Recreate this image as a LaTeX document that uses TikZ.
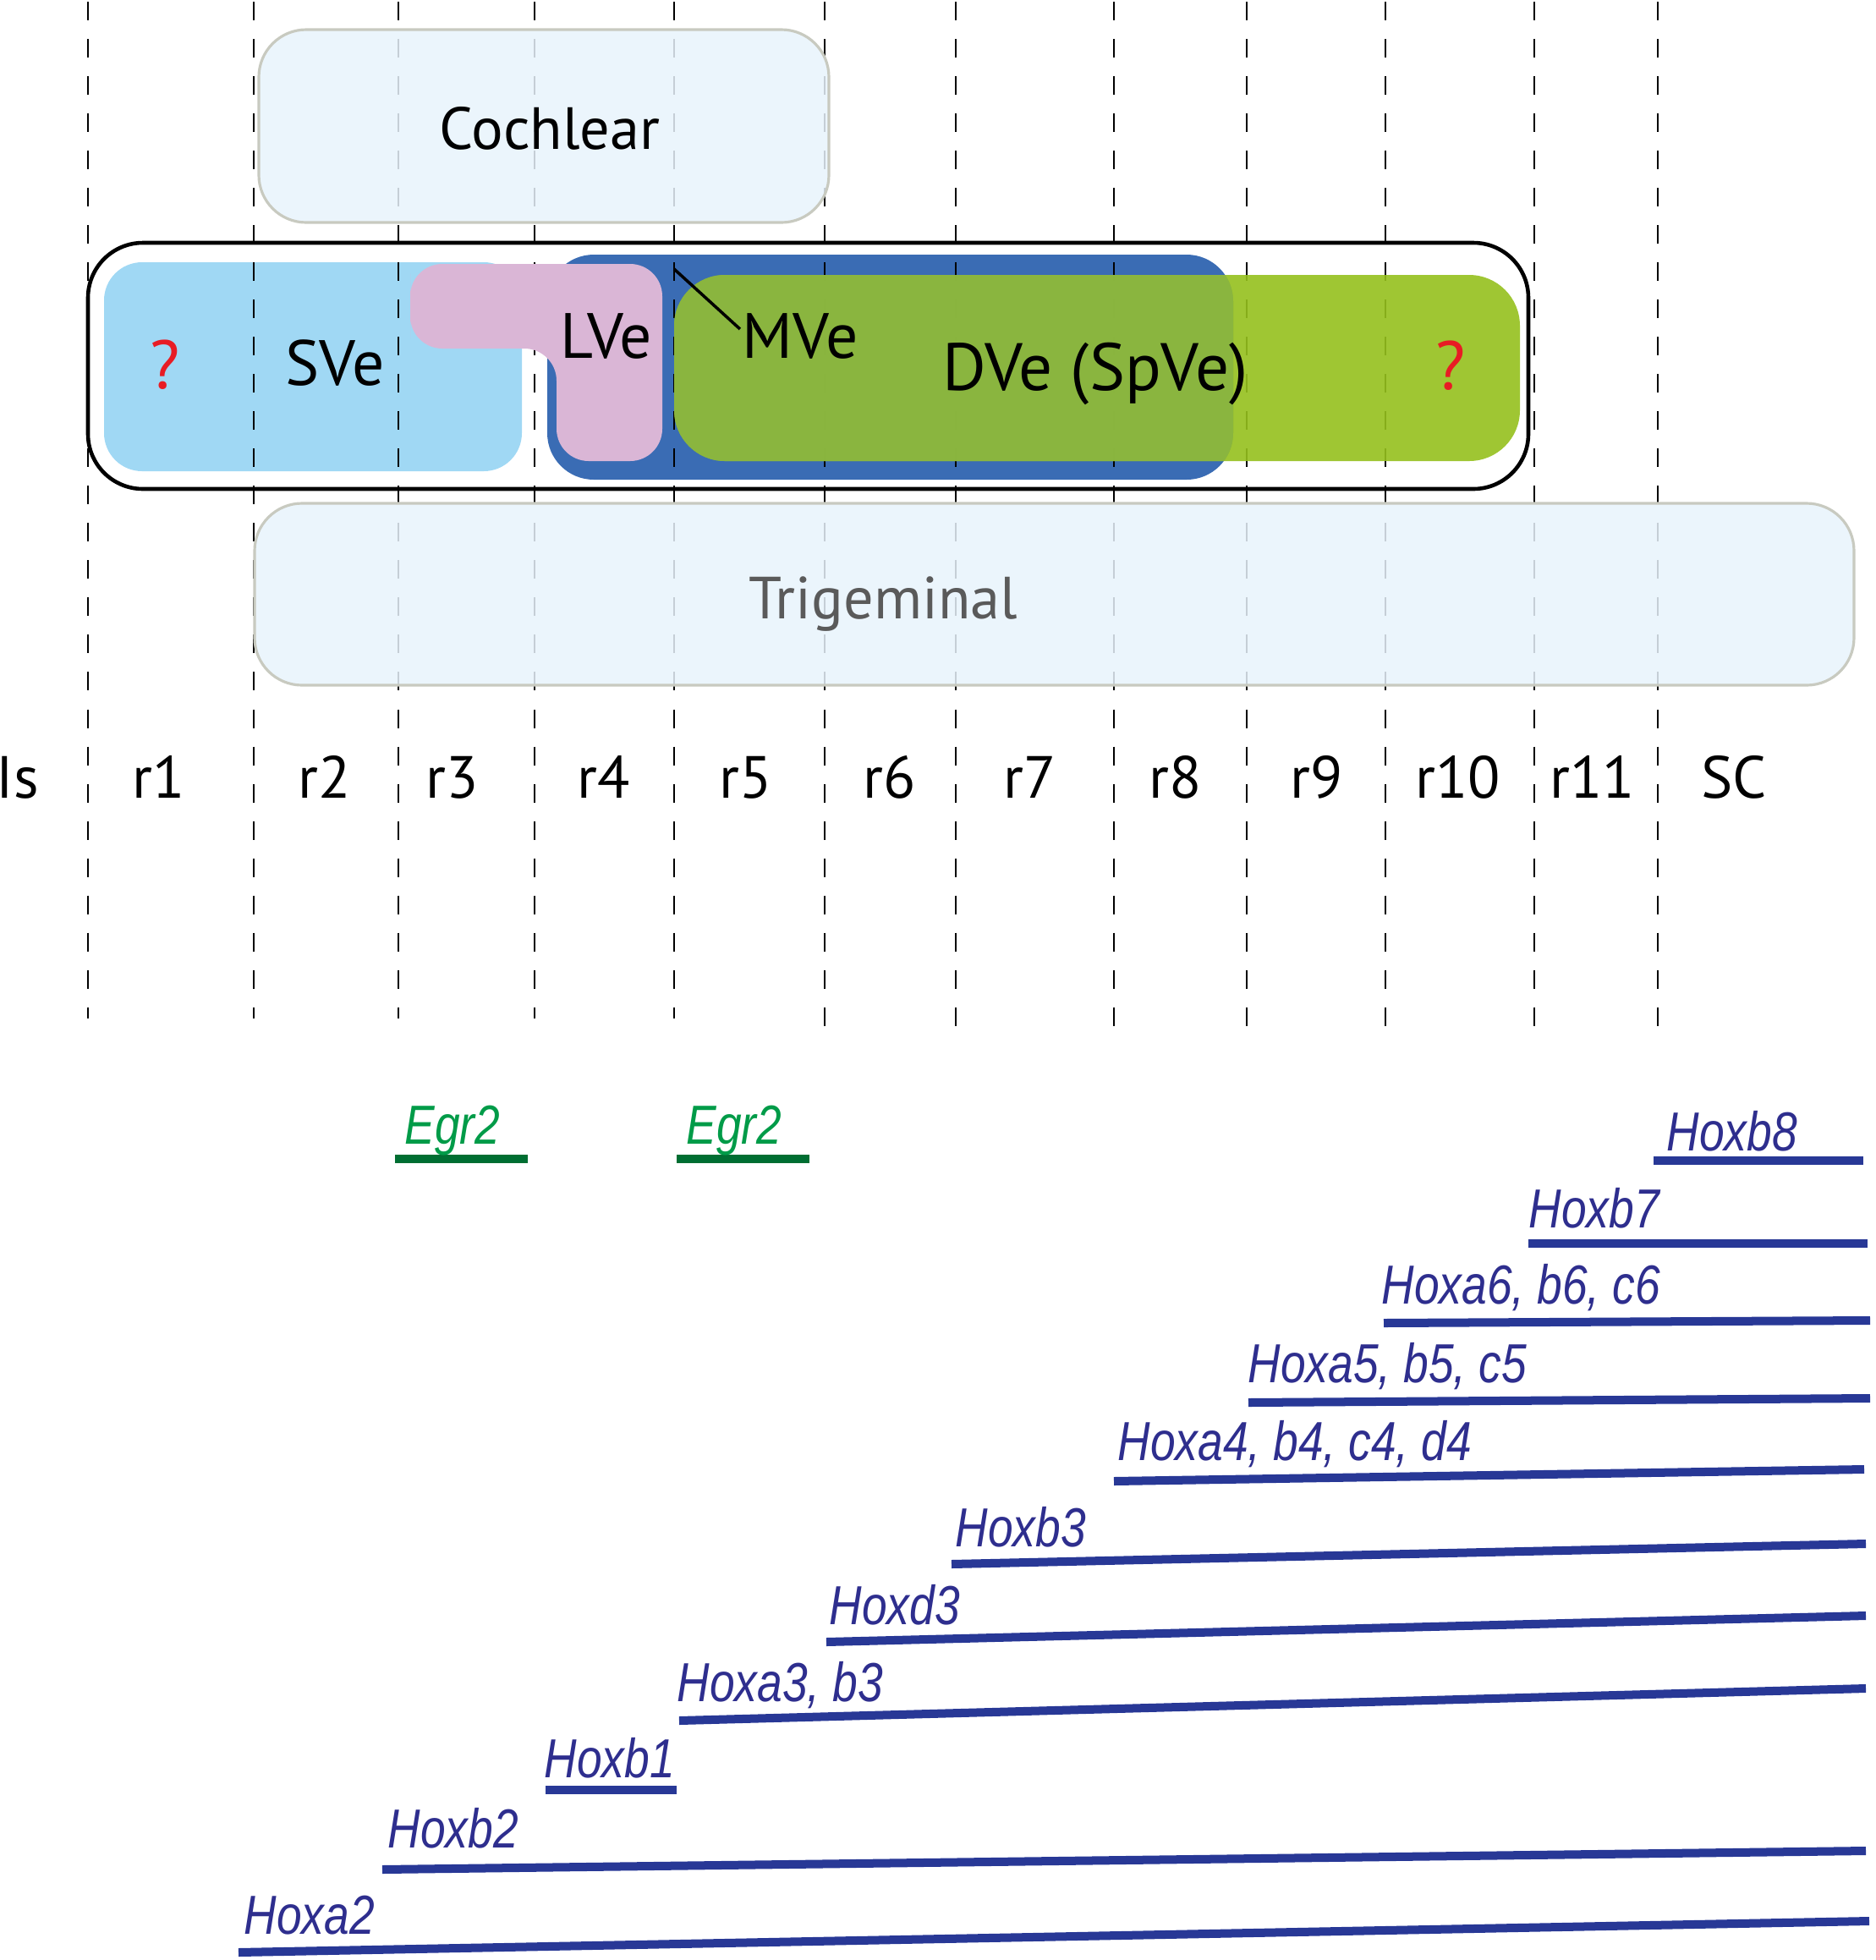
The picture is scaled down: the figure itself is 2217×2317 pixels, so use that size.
\documentclass[tikz,border=0pt]{standalone}
\usepackage{fontspec}
\setmainfont{PT Sans}
\newfontfamily\genefont[FakeStretch=0.82]{Liberation Sans}

\definecolor{cochfill}{RGB}{232,243,252}
\definecolor{boxedge}{RGB}{200,202,192}
\definecolor{svefill}{RGB}{160,216,244}
\definecolor{dvefill}{RGB}{58,108,180}
\definecolor{spvefill}{RGB}{149,192,29}
\definecolor{olivefill}{RGB}{138,181,66}
\definecolor{lvefill}{RGB}{218,182,214}
\definecolor{qred}{RGB}{232,28,36}
\definecolor{trigray}{RGB}{90,90,90}
\definecolor{egrtext}{RGB}{0,155,72}
\definecolor{egrbar}{RGB}{0,110,50}
\definecolor{hoxtext}{RGB}{46,46,142}
\definecolor{hoxbar}{RGB}{40,56,150}

\tikzset{
  seglabel/.style={anchor=base, inner sep=0pt, font=\fontsize{20}{24}\selectfont},
  vestlabel/.style={anchor=base, inner sep=0pt, font=\fontsize{21.5}{25}\selectfont},
  qmark/.style={anchor=base, inner sep=0pt, text=qred, font=\fontsize{23}{27}\selectfont},
  segline/.style={line width=0.7pt, dash pattern=on 0.22cm off 0.22cm},
  nucbox/.style={fill=cochfill, fill opacity=0.85, draw=boxedge, line width=0.9pt, rounded corners=0.56cm},
  genelabel/.style={anchor=base west, inner sep=0pt, font=\genefont\itshape\fontsize{18.5}{22}\selectfont},
  genebar/.style={line width=0.1cm}
}

\begin{document}
\begin{tikzpicture}[x=0.01cm, y=-0.01cm]
\useasboundingbox (0,0) rectangle (2217,2317);

% Nuclei (filled areas under the segment lines)
\fill[svefill, rounded corners=0.45cm] (123,310) rectangle (617,557);
\fill[dvefill, rounded corners=0.55cm] (647,301) rectangle (1458,567);

% Segment boundaries
\foreach \xx/\yend in {104/1204, 300/1204, 471/1204, 632/1204, 797/1204,
                      975/1217, 1130/1217, 1317/1217, 1474/1217, 1638/1217, 1814/1217, 1960/1217} {
    \draw[segline] (\xx,2) -- (\xx,\yend);
}

% DVe (SpVe), darker where it lies over the blue
\fill[spvefill, fill opacity=0.9, rounded corners=0.6cm] (797,325) rectangle (1797,545);
\begin{scope}
  \clip[rounded corners=0.55cm] (647,301) rectangle (1458,567);
  \fill[olivefill, fill opacity=0.9, rounded corners=0.6cm] (797,325) rectangle (1797,545);
\end{scope}

% LVe
\fill[lvefill] (485,362) [rounded corners=0.38cm] -- (485,312) -- (783,312) -- (783,545)
    -- (658,545) -- (658,412) -- (485,412) -- cycle;

% Vestibular outline
\draw[line width=1.3pt, rounded corners=0.65cm] (104,287) rectangle (1807,578);

% Cochlear and trigeminal
\draw[nucbox] (306,35) rectangle (980,263);
\draw[nucbox] (301,595) rectangle (2192,810);

% Nucleus labels
\node[seglabel] (cochlear) at (650,176) {Cochlear};
\node[seglabel, text=trigray] (trigeminal) at (1044,731) {Trigeminal};
\node[qmark] (qleft) at (195,459) {?};
\node[qmark] (qright) at (1715,460) {?};
\node[vestlabel] (sve) at (396,455) {SVe};
\node[vestlabel] (lve) at (717,423) {LVe};
\node[vestlabel] (mve) at (946,423) {MVe};
\node[vestlabel, font=\fontsize{22.5}{26}\selectfont] (dve) at (1295,461) {DVe (SpVe)};
\coordinate (mvetip) at (797,318);
\draw[line width=1pt] (mvetip) -- ([xshift=-0.02cm, yshift=0.08cm]mve.west);

% Segment names
\foreach \lab/\xx in {Is/21, r1/188, r2/384, r3/535, r4/714, r5/882, r6/1052,
                      r7/1218, r8/1390, r9/1557, r10/1724, r11/1883, SC/2050} {
    \node[seglabel] (seg-\lab) at (\xx,943) {\lab};
}

% Egr2 domains
\foreach \xa/\xb/\tx [count=\i] in {467/624/478, 800/957/811} {
    \draw[genebar, egrbar] (\xa,1370) -- (\xb,1370);
    \node[genelabel, text=egrtext] (egr\i) at (\tx,1352) {Egr2};
}

% Hox expression limits
\foreach \gname/\xa/\ya/\xb/\yb/\tx/\ty [count=\i] in {
    Hoxb8/1955/1372/2203/1372/1970/1360,
    Hoxb7/1807/1470/2208/1470/1807/1451,
    {Hoxa6, b6, c6}/1636/1564/2211/1561/1633/1541,
    {Hoxa5, b5, c5}/1476/1658/2211/1653/1475/1634,
    {Hoxa4, b4, c4, d4}/1317/1751/2204/1737/1321/1726,
    Hoxb3/1125/1849/2206/1825/1129/1828,
    Hoxd3/977/1941/2206/1910/980/1920,
    {Hoxa3, b3}/803/2034/2206/1996/800/2011,
    Hoxb1/645/2116/800/2116/643/2101,
    Hoxb2/452/2210/2206/2188/458/2184,
    Hoxa2/282/2308/2210/2271/288/2286} {
    \draw[genebar, hoxbar] (\xa,\ya) -- (\xb,\yb);
    \node[genelabel, text=hoxtext] (hox\i) at (\tx,\ty) {\gname};
}

\end{tikzpicture}
\end{document}
